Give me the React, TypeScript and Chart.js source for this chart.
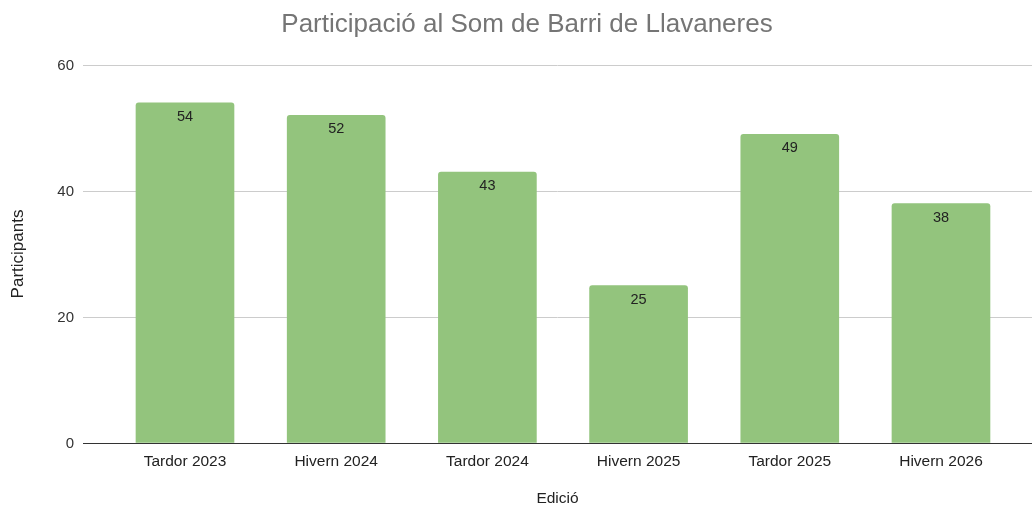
import React, { useEffect, useRef } from "react";
import { Chart, registerables } from "chart.js";

Chart.register(...registerables);

const chartTitle = "Participació al Som de Barri de Llavaneres";
const categories = ["Tardor 2023", "Hivern 2024", "Tardor 2024", "Hivern 2025", "Tardor 2025", "Hivern 2026"];
const participants = [54, 52, 43, 25, 49, 38];
const yTicks = [0, 20, 40, 60];

const FONT = 'Arial, "Liberation Sans", sans-serif';

const valueLabels = {
  id: "valueLabels",
  afterDatasetsDraw(chart: any) {
    const ctx = chart.ctx;
    const meta = chart.getDatasetMeta(0);
    ctx.save();
    ctx.font = `14.5px ${FONT}`;
    ctx.fillStyle = "#222222";
    ctx.textAlign = "center";
    ctx.textBaseline = "middle";
    meta.data.forEach((el: any, i: number) => {
      ctx.fillText(String(participants[i]), el.x, el.y + 14);
    });
    ctx.restore();
  },
};

const titlePlugin = {
  id: "customTitle",
  afterDraw(chart: any) {
    const ctx = chart.ctx;
    ctx.save();
    ctx.font = `26px ${FONT}`;
    ctx.fillStyle = "#757575";
    ctx.textAlign = "center";
    ctx.textBaseline = "middle";
    ctx.fillText(chartTitle, 527, 25);
    ctx.restore();
  },
};

export default function App() {
  const ref = useRef<HTMLCanvasElement | null>(null);
  useEffect(() => {
    document.body.style.margin = "0";
    const chart = new Chart(ref.current as HTMLCanvasElement, {
      type: "bar",
      data: {
        datasets: [
          {
            data: participants.map((v, i) => ({ x: i, y: v })),
            backgroundColor: "#93c47d",
            borderRadius: { topLeft: 3, topRight: 3, bottomLeft: 0, bottomRight: 0 },
            borderSkipped: "bottom",
            barThickness: 98,
          },
        ],
      },
      options: {
        responsive: false,
        animation: false,
        layout: { padding: { top: 65, left: 0, right: 0, bottom: 0 } },
        plugins: {
          legend: { display: false },
          tooltip: { enabled: false },
          title: { display: false },
        },
        scales: {
          x: {
            type: "linear",
            offset: false,
            min: -0.6746,
            max: 5.602,
            afterBuildTicks: (scale: any) => {
              scale.ticks = categories.map((_, i) => ({ value: i }));
            },
            afterFit: (scale: any) => {
              scale.height = 62;
            },
            grid: { display: false, drawTicks: false },
            border: { display: true, color: "#333333", width: 1 },
            ticks: {
              color: "#222222",
              font: { family: FONT, size: 15.5 },
              padding: 9,
              maxRotation: 0,
              autoSkip: false,
              callback: (v: any) => categories[v as number] ?? "",
            },
            title: {
              display: true,
              text: "Edició",
              color: "#222222",
              font: { family: FONT, size: 15.5 },
              padding: { top: 0, bottom: -3 },
            },
          },
          y: {
            min: 0,
            max: 60,
            afterBuildTicks: (scale: any) => {
              scale.ticks = yTicks.map((v) => ({ value: v }));
            },
            afterFit: (scale: any) => {
              scale.width = 83;
            },
            grid: { color: "#cccccc", drawTicks: false },
            border: { display: false },
            ticks: {
              color: "#333333",
              font: { family: FONT, size: 15 },
              padding: 9,
              labelOffset: 1,
            },
            title: {
              display: true,
              text: "Participants",
              color: "#222222",
              font: { family: FONT, size: 17 },
              padding: { top: 8, bottom: 0 },
            },
          },
        },
      } as any,
      plugins: [valueLabels, titlePlugin],
    });
    return () => chart.destroy();
  }, []);
  return <canvas ref={ref} width={1032} height={505} style={{ display: "block" }} />;
}
